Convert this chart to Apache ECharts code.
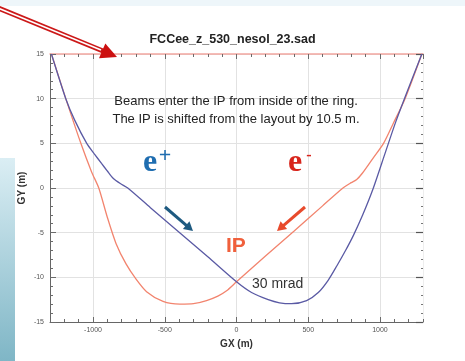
<!DOCTYPE html>
<html>
<head>
<meta charset="utf-8">
<title>FCCee_z_530_nesol_23.sad</title>
<script src="https://cdn.jsdelivr.net/npm/echarts@6/dist/echarts.min.js"></script>
<style>
html, body { margin: 0; padding: 0; background: #fff; }
#main { width: 465px; height: 361px; }
</style>
</head>
<body>
<div id="main"></div>
<script>
// e+ trajectory (blue), metres
var positronGX = [-1290, -1190, -1128, -1044, -990, -941, -900, -860, -810, -758, -600, -400, -200, 0,
	105, 221, 300, 384, 489, 570, 640, 700, 760, 815, 880, 954, 1036, 1110, 1190, 1292];
var positronGY = [15, 10, 7.6, 5.0, 3.8, 2.75, 1.9, 1.1, 0.5, 0, -2.2, -4.95, -7.7, -10.5,
	-11.7, -12.5, -12.85, -12.95, -12.6, -11.7, -10.3, -8.7, -7.0, -5.3, -3.0, 0, 3.9, 7.4, 10.8, 15];

// e- trajectory (red), metres
var electronGX = [-1290, -1190, -1085, -1010, -960, -900, -840, -770, -700, -627, -512, -395, -300, -209, -130, -69, 0,
	200, 400, 600, 742, 800, 838, 877, 950, 1025, 1095, 1175, 1292];
var electronGY = [15, 10, 5, 1.8, 0, -3.3, -6.2, -8.5, -10.2, -11.6, -12.7, -13.0, -12.95, -12.6, -12.1, -11.5, -10.5,
	-7.65, -4.85, -2.0, 0, 0.6, 0.95, 1.65, 3.3, 5.0, 7.3, 10, 15];

var gxRange = [-1300, 1300];
var gyRange = [-15, 15];

var dom = document.getElementById("main");
var myChart = echarts.init(dom);

function pairs(xs, ys) {
	var out = [];
	for (var i = 0; i < xs.length; i++) out.push([xs[i], ys[i]]);
	return out;
}

function arrow(x1, y1, x2, y2, color, w, headLen, headHalf, z) {
	var dx = x2 - x1, dy = y2 - y1;
	var len = Math.sqrt(dx * dx + dy * dy);
	var ux = dx / len, uy = dy / len;
	var bx = x2 - ux * headLen, by = y2 - uy * headLen;
	return [
		{type: 'line', z: z, shape: {x1: x1, y1: y1, x2: bx + ux, y2: by + uy}, style: {stroke: color, lineWidth: w}},
		{type: 'polygon', z: z, shape: {points: [[x2, y2], [bx - uy * headHalf, by + ux * headHalf], [bx + uy * headHalf, by - ux * headHalf]]}, style: {fill: color}}
	];
}

var font = 'Liberation Sans, Arial, sans-serif';
var tickGrey = '#6a6a6a';

var graphics = [
	// slide decoration
	{type: 'rect', z: 0, shape: {x: 0, y: 0, width: 465, height: 6}, style: {fill: '#eef6fa'}},
	{type: 'rect', z: 0, shape: {x: 0, y: 158, width: 15, height: 203},
		style: {fill: new echarts.graphic.LinearGradient(0, 0, 0, 1, [
			{offset: 0, color: '#dbeef4'}, {offset: 1, color: '#7fb6c6'}])}},
	// double red pointer
	{type: 'line', z: 100, shape: {x1: -2, y1: 8, x2: 103, y2: 51}, style: {stroke: '#cc1818', lineWidth: 5}},
	{type: 'line', z: 101, shape: {x1: -2, y1: 8, x2: 101, y2: 50}, style: {stroke: '#ffffff', lineWidth: 1.6}},
	{type: 'polygon', z: 102, shape: {points: [[117, 57], [99, 58.3], [105.3, 43.5]]}, style: {fill: '#cc1010'}},
	// notes
	{type: 'text', z: 50, x: 236, y: 101, style: {text: 'Beams enter the IP from inside of the ring.', font: '13px ' + font, fill: '#222', align: 'center', verticalAlign: 'middle'}},
	{type: 'text', z: 50, x: 236, y: 119, style: {text: 'The IP is shifted from the layout by 10.5 m.', font: '13px ' + font, fill: '#222', align: 'center', verticalAlign: 'middle'}},
	{type: 'text', z: 50, x: 143, y: 163, style: {text: 'e', font: 'bold 32px Liberation Serif, Times New Roman, serif', fill: '#1f6db0', align: 'left', verticalAlign: 'middle'}},
	{type: 'text', z: 50, x: 165, y: 156, style: {text: '+', font: 'bold 22px Liberation Serif, Times New Roman, serif', fill: '#1f6db0', align: 'center', verticalAlign: 'middle'}},
	{type: 'text', z: 50, x: 288, y: 163, style: {text: 'e', font: 'bold 32px Liberation Serif, Times New Roman, serif', fill: '#d8251c', align: 'left', verticalAlign: 'middle'}},
	{type: 'text', z: 50, x: 309, y: 156, style: {text: '-', font: 'bold 16px Liberation Serif, Times New Roman, serif', fill: '#d8251c', align: 'center', verticalAlign: 'middle'}},
	{type: 'text', z: 50, x: 226, y: 246, style: {text: 'IP', font: 'bold 21px ' + font, fill: '#f0603c', align: 'left', verticalAlign: 'middle'}},
	{type: 'text', z: 50, x: 252, y: 284, style: {text: '30 mrad', font: '14px ' + font, fill: '#333', align: 'left', verticalAlign: 'middle'}}
];
graphics = graphics.concat(arrow(165, 207, 193, 231, '#1e5a80', 3, 9, 5, 50));
graphics = graphics.concat(arrow(305, 207, 277, 231, '#e84a2c', 3, 9, 5, 50));

function majorX(pos, lineColor, lineWidth, showLabel) {
	return {
		type: 'value', position: pos, min: gxRange[0], max: gxRange[1],
		name: showLabel ? 'GX (m)' : '', nameLocation: 'middle', nameGap: 17,
		nameTextStyle: {fontFamily: font, fontSize: 10, fontWeight: 'bold', color: '#333'},
		axisLine: {show: true, onZero: false, lineStyle: {color: lineColor, width: lineWidth}},
		axisTick: {show: true, inside: true, length: 5, lineStyle: {color: tickGrey}},
		axisLabel: {show: showLabel, margin: 5, fontSize: 7, color: '#555', fontFamily: font,
			showMinLabel: false, showMaxLabel: false,
			formatter: function (v) { return String(v); }},
		splitLine: {show: showLabel, lineStyle: {color: '#e2e2e2'}}
	};
}
function minorX(pos) {
	return {
		type: 'value', position: pos, min: gxRange[0], max: gxRange[1], interval: 100,
		axisLine: {show: false, onZero: false},
		axisTick: {show: true, inside: true, length: 3, lineStyle: {color: tickGrey}},
		axisLabel: {show: false},
		splitLine: {show: false}
	};
}

option = {
	backgroundColor: '#ffffff',
	animation: false,
	title: {
		text: 'FCCee_z_530_nesol_23.sad',
		left: 'center',
		top: 28,
		textStyle: {fontFamily: font, fontSize: 12.5, fontWeight: 'bold', color: '#222'}
	},
	grid: {left: 50, right: 42, top: 54, bottom: 39},
	xAxis: [
		majorX('bottom', '#666', 1, true),
		minorX('bottom'),
		majorX('top', '#f2a6a0', 1.5, false),
		minorX('top')
	],
	yAxis: [
		{
			type: 'value', position: 'left', min: gyRange[0], max: gyRange[1], interval: 5,
			name: 'GY (m)', nameLocation: 'middle', nameGap: 23, nameMoveOverlap: false,
			nameTextStyle: {fontFamily: font, fontSize: 10, fontWeight: 'bold', color: '#333'},
			axisLine: {show: true, onZero: false, lineStyle: {color: '#666'}},
			axisTick: {show: true, inside: true, length: 6, lineStyle: {color: tickGrey}},
			minorTick: {show: true, splitNumber: 5, length: 3, lineStyle: {color: tickGrey}},
			axisLabel: {margin: 6, fontSize: 7, color: '#555', fontFamily: font},
			splitLine: {show: true, lineStyle: {color: '#e2e2e2'}}
		},
		{
			type: 'value', position: 'right', min: gyRange[0], max: gyRange[1], interval: 5,
			axisLine: {show: true, onZero: false, lineStyle: {color: '#eeeeee'}},
			axisTick: {show: true, inside: true, length: 7, lineStyle: {color: '#555', width: 1.2}},
			minorTick: {show: true, splitNumber: 5, length: 2, lineStyle: {color: '#777'}},
			axisLabel: {show: false},
			splitLine: {show: false}
		}
	],
	series: [
		{
			name: 'e-', type: 'line', data: pairs(electronGX, electronGY),
			showSymbol: false, smooth: 0.25,
			lineStyle: {color: '#f2846e', width: 1.3}, z: 3
		},
		{
			name: 'e+', type: 'line', data: pairs(positronGX, positronGY),
			showSymbol: false, smooth: 0.25,
			lineStyle: {color: '#5a5aa4', width: 1.3}, z: 4
		}
	],
	graphic: graphics
};

myChart.setOption(option, true);
window.onresize = function () {
	myChart.resize();
};
</script>
</body>
</html>
